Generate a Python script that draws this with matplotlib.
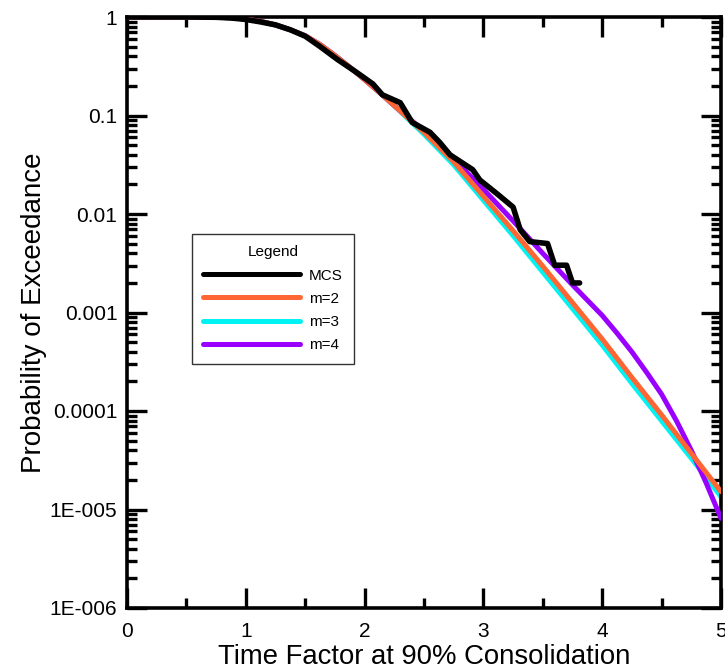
import numpy as np
import matplotlib
matplotlib.use("Agg")
import matplotlib.pyplot as plt
from matplotlib.ticker import MultipleLocator, LogLocator, NullFormatter

plt.rcParams["font.family"] = ["Liberation Sans", "DejaVu Sans"]

# ---------------------------------------------------------------------
# Data (probabilities stored as log10 values)
# ---------------------------------------------------------------------
mcs_t = [0.0, 0.25, 0.5, 0.75, 0.875, 1.0, 1.125, 1.25, 1.375, 1.5, 1.625,
         1.77, 1.93, 2.07, 2.15, 2.30, 2.40, 2.55, 2.63, 2.72, 2.91, 2.97,
         3.11, 3.25, 3.31, 3.39, 3.54, 3.60, 3.70, 3.75, 3.81]
mcs_log = [0.0, 0.0, 0.0, -0.003, -0.01, -0.025, -0.05, -0.08, -0.13, -0.195,
           -0.30, -0.43, -0.56, -0.68, -0.79, -0.87, -1.07, -1.17, -1.27,
           -1.40, -1.55, -1.655, -1.79, -1.93, -2.16, -2.28, -2.30, -2.52,
           -2.52, -2.70, -2.70]

model_t = [0.0, 0.25, 0.5, 0.75, 0.875, 1.0, 1.125, 1.25, 1.375, 1.5, 1.625,
           1.75, 1.875, 2.0, 2.125, 2.25, 2.5, 2.75, 3.0, 3.25, 3.5, 3.75,
           3.875, 4.0, 4.125, 4.25, 4.375, 4.5, 4.625, 4.75, 4.875, 5.0]
m2_log = [0.0, 0.0, 0.0, -0.002, -0.008, -0.02, -0.045, -0.08, -0.13, -0.19,
          -0.28, -0.39, -0.51, -0.635, -0.765, -0.90, -1.17, -1.47, -1.82,
          -2.17, -2.53, -2.90, -3.085, -3.27, -3.465, -3.66, -3.85, -4.04,
          -4.235, -4.43, -4.625, -4.82]
m3_log = [0.0, 0.0, 0.0, -0.002, -0.008, -0.02, -0.045, -0.08, -0.13, -0.19,
          -0.28, -0.39, -0.51, -0.635, -0.765, -0.90, -1.19, -1.50, -1.86,
          -2.22, -2.59, -2.96, -3.145, -3.33, -3.525, -3.72, -3.91, -4.10,
          -4.29, -4.48, -4.675, -4.87]
m4_log = [0.0, 0.0, 0.0, -0.002, -0.008, -0.02, -0.045, -0.08, -0.13, -0.19,
          -0.28, -0.39, -0.51, -0.635, -0.765, -0.90, -1.16, -1.44, -1.75,
          -2.07, -2.40, -2.72, -2.875, -3.03, -3.21, -3.40, -3.61, -3.83,
          -4.10, -4.40, -4.73, -5.09]

y_ticks = [1.0, 0.1, 0.01, 0.001, 1e-4, 1e-5, 1e-6]
y_tick_labels = ["1", "0.1", "0.01", "0.001", "0.0001", "1E-005", "1E-006"]
x_ticks = [0, 1, 2, 3, 4, 5]

# ---------------------------------------------------------------------
# Figure
# ---------------------------------------------------------------------
fig = plt.figure(figsize=(7.25, 6.7), dpi=100)
ax = fig.add_axes([127 / 725, 62 / 670, 594 / 725, 591 / 670])

lw = 3.6
ax.plot(model_t, np.power(10.0, m3_log), color="#00F2F2", lw=lw,
        label="m=3", zorder=2, solid_capstyle="round", solid_joinstyle="round")
ax.plot(model_t, np.power(10.0, m4_log), color="#9900FF", lw=lw,
        label="m=4", zorder=3, solid_capstyle="round", solid_joinstyle="round")
ax.plot(model_t, np.power(10.0, m2_log), color="#FF6633", lw=lw,
        label="m=2", zorder=4, solid_capstyle="round", solid_joinstyle="round")
ax.plot(mcs_t, np.power(10.0, mcs_log), color="black", lw=lw + 0.4,
        label="MCS", zorder=5, solid_capstyle="round", solid_joinstyle="round")

ax.set_yscale("log")
ax.set_xlim(0, 5)
ax.set_ylim(1e-6, 1)

ax.set_xticks(x_ticks)
ax.xaxis.set_minor_locator(MultipleLocator(0.5))
ax.set_yticks(y_ticks)
ax.set_yticklabels(y_tick_labels)
ax.yaxis.set_minor_locator(LogLocator(base=10, subs=np.arange(2, 10)))
ax.yaxis.set_minor_formatter(NullFormatter())

for side in ax.spines.values():
    side.set_linewidth(2.6)

ax.tick_params(which="both", direction="in", top=True, right=True,
               width=2.4, labelsize=15, colors="black")
ax.tick_params(which="major", length=14.5)
ax.tick_params(which="minor", length=7.5)
ax.tick_params(axis="y", which="major", pad=7)
ax.tick_params(axis="x", which="major", pad=10)

ax.set_xlabel("Time Factor at 90% Consolidation", fontsize=19.8, labelpad=2)
ax.set_ylabel("Probability of Exceedance", fontsize=20)
ax.yaxis.set_label_coords(-0.135, 0.5)

handles, labels = ax.get_legend_handles_labels()
order = [labels.index(name) for name in ["MCS", "m=2", "m=3", "m=4"]]
leg = ax.legend([handles[i] for i in order], [labels[i] for i in order],
                title="Legend", loc="upper left",
                bbox_to_anchor=(65 / 594, (608 - 234) / 591),
                borderaxespad=0, fontsize=11, title_fontsize=11,
                handlelength=6.3, handletextpad=0.6, labelspacing=0.6,
                borderpad=0.75, fancybox=False, framealpha=1,
                edgecolor="#333333")
leg.get_frame().set_linewidth(1.0)
for line in leg.get_lines():
    line.set_linewidth(3.6)

fig.savefig("out.png", dpi=100)
